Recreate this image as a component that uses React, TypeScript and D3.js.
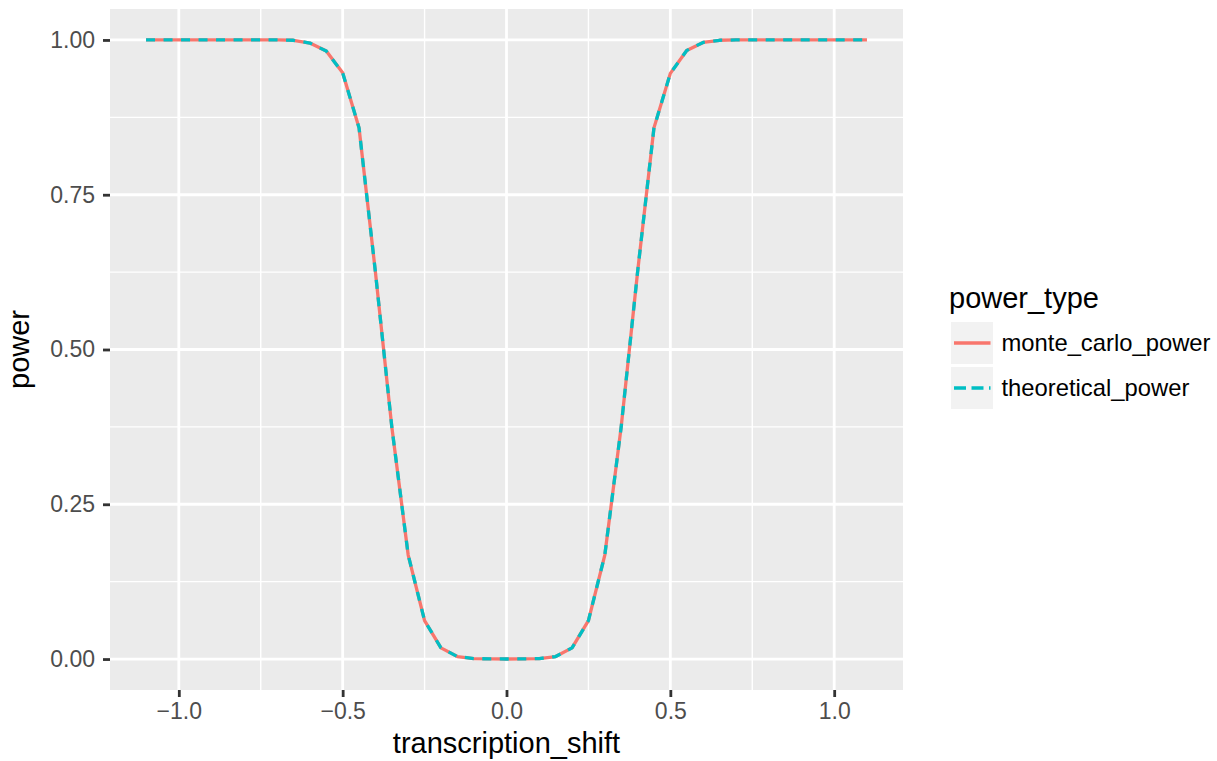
import { useRef, useEffect } from 'react';
import * as d3 from 'd3';

// transcription shift grid
const shift = [
  -1.1, -1.05, -1.0, -0.95, -0.9, -0.85, -0.8, -0.75, -0.7, -0.65, -0.6, -0.55, -0.5, -0.45, -0.4,
  -0.35, -0.3, -0.25, -0.2, -0.15, -0.1, -0.05, 0.0, 0.05, 0.1, 0.15, 0.2, 0.25, 0.3, 0.35, 0.4,
  0.45, 0.5, 0.55, 0.6, 0.65, 0.7, 0.75, 0.8, 0.85, 0.9, 0.95, 1.0, 1.05, 1.1,
];

const monteCarloPower = [
  1, 1, 1, 1, 1, 1, 1, 1, 1, 0.9995, 0.995, 0.982, 0.947, 0.858, 0.625,
  0.375, 0.168, 0.062, 0.018, 0.004, 0.0008, 0.0002, 0.0001, 0.0002, 0.0008, 0.004, 0.018, 0.062, 0.168, 0.375, 0.625,
  0.858, 0.946, 0.983, 0.996, 0.9995, 1, 1, 1, 1, 1, 1, 1, 1, 1,
];

const theoreticalPower = [
  1, 1, 1, 1, 1, 1, 1, 1, 1, 0.9995, 0.995, 0.982, 0.947, 0.858, 0.625,
  0.375, 0.168, 0.062, 0.018, 0.004, 0.0008, 0.0002, 0.0001, 0.0002, 0.0008, 0.004, 0.018, 0.062, 0.168, 0.375, 0.625,
  0.858, 0.946, 0.983, 0.996, 0.9995, 1, 1, 1, 1, 1, 1, 1, 1, 1,
];

const seriesNames = ['monte_carlo_power', 'theoretical_power'];
const xTicks = [-1.0, -0.5, 0.0, 0.5, 1.0];
const xMinor = [-0.75, -0.25, 0.25, 0.75];
const yTicks = [0, 0.25, 0.5, 0.75, 1.0];
const yMinor = [0.125, 0.375, 0.625, 0.875];

const FONT = '"Liberation Sans", Arial, Helvetica, sans-serif';
const RED = '#F8766D';
const TEAL = '#00BFC4';
const LINE_W = 3.3;

export default function App() {
  const svgRef = useRef<SVGSVGElement>(null);

  useEffect(() => {
    const W = 1217;
    const H = 761;
    const panel = { left: 110, right: 903, top: 9, bottom: 690 };

    const svg = d3.select(svgRef.current).attr('width', W).attr('height', H);
    svg.selectAll('*').remove();
    svg.append('rect').attr('width', W).attr('height', H).attr('fill', 'white');

    const xScale = d3.scaleLinear().domain([-1.21, 1.21]).range([panel.left, panel.right]);
    const yScale = d3.scaleLinear().domain([-0.05, 1.05]).range([panel.bottom, panel.top]);

    svg
      .append('rect')
      .attr('x', panel.left)
      .attr('y', panel.top)
      .attr('width', panel.right - panel.left)
      .attr('height', panel.bottom - panel.top)
      .attr('fill', '#EBEBEB');

    const grid = svg.append('g').attr('class', 'grid');
    grid
      .selectAll('.xminor')
      .data(xMinor)
      .join('line')
      .attr('x1', (d) => xScale(d))
      .attr('x2', (d) => xScale(d))
      .attr('y1', panel.top)
      .attr('y2', panel.bottom)
      .attr('stroke', 'white')
      .attr('stroke-width', 1.4);
    grid
      .selectAll('.yminor')
      .data(yMinor)
      .join('line')
      .attr('x1', panel.left)
      .attr('x2', panel.right)
      .attr('y1', (d) => yScale(d))
      .attr('y2', (d) => yScale(d))
      .attr('stroke', 'white')
      .attr('stroke-width', 1.4);
    grid
      .append('g')
      .selectAll('line')
      .data(xTicks)
      .join('line')
      .attr('x1', (d) => xScale(d))
      .attr('x2', (d) => xScale(d))
      .attr('y1', panel.top)
      .attr('y2', panel.bottom)
      .attr('stroke', 'white')
      .attr('stroke-width', 2.8);
    grid
      .append('g')
      .selectAll('line')
      .data(yTicks)
      .join('line')
      .attr('x1', panel.left)
      .attr('x2', panel.right)
      .attr('y1', (d) => yScale(d))
      .attr('y2', (d) => yScale(d))
      .attr('stroke', 'white')
      .attr('stroke-width', 2.8);

    const rows = shift.map((x, i) => ({ x, mc: monteCarloPower[i], th: theoreticalPower[i] }));

    const lineMc = d3
      .line<{ x: number; mc: number; th: number }>()
      .x((d) => xScale(d.x))
      .y((d) => yScale(d.mc));
    const lineTh = d3
      .line<{ x: number; mc: number; th: number }>()
      .x((d) => xScale(d.x))
      .y((d) => yScale(d.th));

    svg
      .append('path')
      .attr('d', lineMc(rows))
      .attr('fill', 'none')
      .attr('stroke', RED)
      .attr('stroke-width', LINE_W)
      .attr('stroke-linejoin', 'round');
    svg
      .append('path')
      .attr('d', lineTh(rows))
      .attr('fill', 'none')
      .attr('stroke', TEAL)
      .attr('stroke-width', LINE_W)
      .attr('stroke-dasharray', '9,8.5')
      .attr('stroke-linejoin', 'round');

    // axes
    const xAxis = d3
      .axisBottom(xScale)
      .tickValues(xTicks)
      .tickFormat(d3.format('.1f'))
      .tickSize(7)
      .tickSizeOuter(0)
      .tickPadding(6);
    const xAxisDraw = svg
      .append('g')
      .attr('class', 'x axis')
      .attr('transform', `translate(0, ${panel.bottom})`)
      .call(xAxis);

    const yAxis = d3
      .axisLeft(yScale)
      .tickValues(yTicks)
      .tickFormat(d3.format('.2f'))
      .tickSize(7)
      .tickSizeOuter(0)
      .tickPadding(8);
    const yAxisDraw = svg
      .append('g')
      .attr('class', 'y axis')
      .attr('transform', `translate(${panel.left}, 0)`)
      .call(yAxis);

    [xAxisDraw, yAxisDraw].forEach((g) => {
      g.select('.domain').remove();
      g.selectAll('line').attr('stroke', '#333333').attr('stroke-width', 2.8);
      g.selectAll('text')
        .attr('font-family', FONT)
        .attr('font-size', 23)
        .attr('fill', '#4D4D4D');
    });

    svg
      .append('text')
      .attr('x', (panel.left + panel.right) / 2)
      .attr('y', 753)
      .attr('text-anchor', 'middle')
      .attr('font-family', FONT)
      .attr('font-size', 29)
      .text('transcription_shift');

    svg
      .append('text')
      .attr('transform', `translate(29, ${(panel.top + panel.bottom) / 2}) rotate(-90)`)
      .attr('text-anchor', 'middle')
      .attr('font-family', FONT)
      .attr('font-size', 29)
      .text('power');

    // legend
    const legend = svg.append('g').attr('class', 'legend');
    legend
      .append('text')
      .attr('x', 949)
      .attr('y', 308)
      .attr('font-family', FONT)
      .attr('font-size', 29)
      .text('power_type');

    const keyTop = 320.5;
    const keySize = 45;
    const keys = legend
      .selectAll('.key')
      .data(seriesNames)
      .join('g')
      .attr('class', 'key')
      .attr('transform', (_, i) => `translate(949.5, ${keyTop + i * keySize})`);
    keys
      .append('rect')
      .attr('width', keySize)
      .attr('height', keySize)
      .attr('fill', '#F2F2F2')
      .attr('stroke', 'white')
      .attr('stroke-width', 3);
    keys
      .append('line')
      .attr('x1', 4.5)
      .attr('x2', 41)
      .attr('y1', keySize / 2)
      .attr('y2', keySize / 2)
      .attr('stroke', (_, i) => (i === 0 ? RED : TEAL))
      .attr('stroke-width', LINE_W)
      .attr('stroke-dasharray', (_, i) => (i === 0 ? null : '12,5.5'));
    keys
      .append('text')
      .attr('x', 52)
      .attr('y', keySize / 2)
      .attr('dy', '0.35em')
      .attr('font-family', FONT)
      .attr('font-size', 23.8)
      .text((d) => d);
  }, []);

  return (
    <div style={{ position: 'absolute', left: 0, top: 0 }}>
      <svg ref={svgRef} />
    </div>
  );
}
